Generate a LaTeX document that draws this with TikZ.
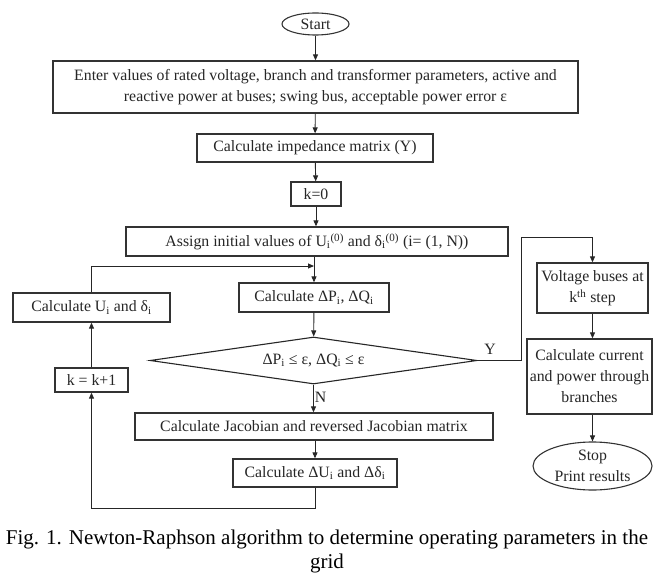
\documentclass[tikz,border=0pt]{standalone}
\usepackage{fontspec}
\setmainfont{Liberation Serif}
\usetikzlibrary{shapes.geometric,arrows.meta}
\begin{document}
\begin{tikzpicture}[x=1pt,y=-1pt,
  every node/.style={font=\fontsize{15.8}{21}\selectfont, text=black!85, inner sep=0pt},
  box/.style={draw=black!80, line width=1.3pt, rectangle, align=center},
  term/.style={draw=black!80, line width=1.1pt, ellipse, align=center},
  decision/.style={draw=black!85, line width=1.1pt, diamond, aspect=7},
  conn/.style={draw=black!85, line width=0.9pt},
  arr/.style={conn, -{Triangle[length=6pt,width=5pt]}},
  lbl/.style={text=black!85},
  captext/.style={font=\fontsize{21}{23.5}\selectfont, text=black, align=center}
]
\useasboundingbox[fill=white] (0,0) rectangle (653,575);

\node[term, minimum width=67pt, minimum height=22pt] (start) at (315.5,24) {Start};
\node[box, minimum width=525pt, minimum height=52pt] (input) at (315.5,87)
  {Enter values of rated voltage, branch and transformer parameters, active and\\
   reactive power at buses; swing bus, acceptable power error ε};
\node[box, minimum width=236pt, minimum height=28pt] (ymat) at (315,148) {Calculate impedance matrix (Y)};
\node[box, minimum width=50pt, minimum height=24pt] (k0) at (316,194) {k=0};
\node[box, minimum width=382pt, minimum height=29pt] (init) at (317,241.5)
  {Assign initial values of U\textsubscript{i}\textsuperscript{(0)} and δ\textsubscript{i}\textsuperscript{(0)} (i= (1, N))};
\node[box, minimum width=150pt, minimum height=29pt] (dpq) at (314,297.5) {Calculate ΔP\textsubscript{i}, ΔQ\textsubscript{i}};
\node[decision, minimum width=327pt, minimum height=47pt] (dec) at (313.5,360.5)
  {ΔP\textsubscript{i} ≤ ε, ΔQ\textsubscript{i} ≤ ε};
\node[box, minimum width=157pt, minimum height=29pt] (upd) at (91.5,307.5) {Calculate U\textsubscript{i} and δ\textsubscript{i}};
\node[box, minimum width=73pt, minimum height=24pt] (kinc) at (91.5,380) {k = k+1};
\node[box, minimum width=358pt, minimum height=27pt] (jac) at (314,426.5) {Calculate Jacobian and reversed Jacobian matrix};
\node[box, minimum width=164pt, minimum height=28pt] (du) at (315,473) {Calculate ΔU\textsubscript{i} and Δδ\textsubscript{i}};
\node[box, minimum width=111pt, minimum height=50pt] (vbus) at (592.5,288) {Voltage buses at\\k\textsuperscript{th} step};
\node[box, minimum width=125pt, minimum height=75pt] (curr) at (589.5,376.5) {Calculate current\\and power through\\branches};
\node[term, minimum width=119pt, minimum height=48pt] (stop) at (592.5,466) {Stop\\Print results};

\coordinate (lb) at (315,508);
\coordinate (lt) at (314,266);
\coordinate (yr) at (521,237);

\draw[arr] (start) -- (input);
\draw[arr] (input) -- (ymat);
\draw[arr] (ymat) -- (k0);
\draw[arr] (k0.south) -- (k0.south |- init.north);
\draw[arr] (init.south -| dpq.north) -- (dpq.north);
\draw[arr] (dpq) -- (dec);
\draw[arr] (dec.south) -- node[lbl, pos=0.45, right=1pt] (nlab) {N} (dec.south |- jac.north);
\draw[arr] (jac.south -| du.north) -- (du.north);
\draw[arr] (du.south) -- (lb) -| (kinc.south);
\draw[arr] (kinc) -- (upd);
\draw[arr] (upd.north) |- (lt);
\draw[arr] (dec.east) -| (yr) -| (vbus.north);
\node[lbl] (ylab) at (490,349) {Y};
\draw[arr] (vbus.south) -- (vbus.south |- curr.north);
\draw[arr] (curr.south -| stop.north) -- (stop.north);

\node[captext] (cap) at (327,551.5) {Fig. 1. Newton-Raphson algorithm to determine operating parameters in the\\grid};
\end{tikzpicture}
\end{document}
